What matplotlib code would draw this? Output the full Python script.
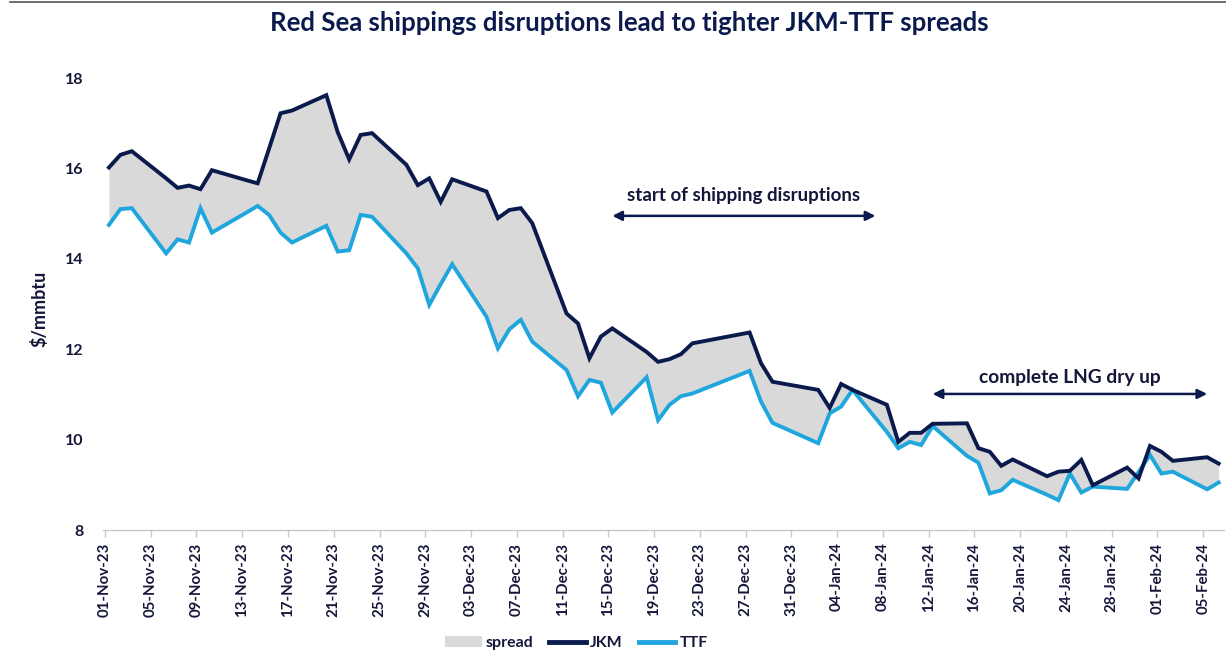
import matplotlib
matplotlib.use("Agg")
import matplotlib.pyplot as plt
import matplotlib.dates as mdates
from matplotlib.transforms import ScaledTranslation
from matplotlib.patches import Patch
from matplotlib.lines import Line2D
import numpy as np
import pandas as pd

dates = ["2023-11-01", "2023-11-02", "2023-11-03", "2023-11-06", "2023-11-07", "2023-11-08",
         "2023-11-09", "2023-11-10", "2023-11-13", "2023-11-14", "2023-11-15", "2023-11-16",
         "2023-11-17", "2023-11-20", "2023-11-21", "2023-11-22", "2023-11-23", "2023-11-24",
         "2023-11-27", "2023-11-28", "2023-11-29", "2023-11-30", "2023-12-01", "2023-12-04",
         "2023-12-05", "2023-12-06", "2023-12-07", "2023-12-08", "2023-12-11", "2023-12-12",
         "2023-12-13", "2023-12-14", "2023-12-15", "2023-12-18", "2023-12-19", "2023-12-20",
         "2023-12-21", "2023-12-22", "2023-12-27", "2023-12-28", "2023-12-29", "2024-01-02",
         "2024-01-03", "2024-01-04", "2024-01-05", "2024-01-08", "2024-01-09", "2024-01-10",
         "2024-01-11", "2024-01-12", "2024-01-15", "2024-01-16", "2024-01-17", "2024-01-18",
         "2024-01-19", "2024-01-22", "2024-01-23", "2024-01-24", "2024-01-25", "2024-01-26",
         "2024-01-29", "2024-01-30", "2024-01-31", "2024-02-01", "2024-02-02", "2024-02-05",
         "2024-02-06"]

jkm = [16.02, 16.30, 16.38, 15.78, 15.57, 15.62,
       15.54, 15.96, 15.74, 15.67, 16.44, 17.22,
       17.28, 17.62, 16.80, 16.20, 16.74, 16.78,
       16.08, 15.63, 15.78, 15.26, 15.76, 15.49,
       14.90, 15.08, 15.12, 14.79, 12.79, 12.57,
       11.80, 12.28, 12.46, 11.94, 11.72, 11.78,
       11.89, 12.13, 12.37, 11.69, 11.28, 11.10,
       10.70, 11.23, 11.10, 10.77, 9.95, 10.15,
       10.15, 10.35, 10.36, 9.81, 9.73, 9.42,
       9.56, 9.19, 9.29, 9.31, 9.55, 8.99,
       9.38, 9.14, 9.86, 9.73, 9.53, 9.61,
       9.47]

ttf = [14.75, 15.10, 15.12, 14.12, 14.43, 14.36,
       15.12, 14.58, 15.02, 15.17, 14.97, 14.58,
       14.36, 14.73, 14.16, 14.19, 14.97, 14.93,
       14.12, 13.79, 12.98, 13.44, 13.88, 12.72,
       12.02, 12.44, 12.65, 12.17, 11.54, 10.96,
       11.32, 11.26, 10.60, 11.38, 10.43, 10.77,
       10.96, 11.02, 11.52, 10.84, 10.37, 9.92,
       10.58, 10.73, 11.10, 10.17, 9.81, 9.95,
       9.88, 10.30, 9.64, 9.49, 8.81, 8.88,
       9.11, 8.78, 8.66, 9.25, 8.83, 8.96,
       8.91, 9.28, 9.66, 9.25, 9.29, 8.90,
       9.05]

tick_start = "2023-11-01"
tick_end = "2024-02-05"
y_ticks = [8, 10, 12, 14, 16, 18]

title = "Red Sea shippings disruptions lead to tighter JKM-TTF spreads"
ann1 = "start of shipping disruptions"
ann1_range = ("2023-12-15", "2024-01-07")
ann2 = "complete LNG dry up"
ann2_range = ("2024-01-12", "2024-02-05")

NAVY = "#0b1a4d"
BLUE = "#1fa6dd"
GREY = "#d9d9d9"
TEXT = "#14173a"

plt.rcParams['font.family'] = ['Lato', 'DejaVu Sans']

x = mdates.date2num(pd.to_datetime(dates))
jkm = np.array(jkm)
ttf = np.array(ttf)

fig = plt.figure(figsize=(12.26, 6.61), dpi=100)
ax = fig.add_axes([103/1226, 131/661, 1121/1226, 452/661])

ax.fill_between(x, ttf, jkm, color=GREY, linewidth=0, zorder=1)
ax.plot(x, jkm, color=NAVY, lw=2.8, solid_joinstyle='miter', zorder=3)
ax.plot(x, ttf, color=BLUE, lw=2.8, solid_joinstyle='miter', zorder=2)

x0 = mdates.date2num(pd.Timestamp(tick_start))
ax.set_xlim(x0 - 0.52, x0 + 97.47)
ax.set_ylim(8, 18)

ticks = mdates.date2num(pd.date_range(tick_start, tick_end, freq="4D"))
ax.set_xticks(ticks - 0.35)
ax.set_xticklabels([pd.Timestamp(mdates.num2date(t)).strftime("%d-%b-%y") for t in ticks],
                   rotation=90, fontsize=10.8, fontweight='bold', color=TEXT)
for lab in ax.get_xticklabels():
    lab.set_transform(lab.get_transform() + ScaledTranslation(7/100, 0, fig.dpi_scale_trans))
ax.tick_params(axis='x', length=5, color='#c8c8c8', width=1, pad=4)

ax.set_yticks(y_ticks)
ax.set_yticklabels([str(v) for v in y_ticks], fontsize=11.5, fontweight='bold', color=TEXT)
ax.tick_params(axis='y', length=0, pad=14)

for s in ['top', 'right', 'left']:
    ax.spines[s].set_visible(False)
ax.spines['bottom'].set_color('#c8c8c8')
ax.spines['bottom'].set_linewidth(1)

ax.set_ylabel("$/mmbtu", fontsize=13, fontweight='bold', color=TEXT)
ax.yaxis.set_label_coords(-0.049, 0.49)

fig.text(0.513, 0.965, title, ha='center', va='center', fontsize=18.5, fontweight='bold', color=NAVY)

def span(label, rng, yarrow, ytext, size):
    a = mdates.date2num(pd.Timestamp(rng[0]))
    b = mdates.date2num(pd.Timestamp(rng[1]))
    ax.annotate("", xy=(a, yarrow), xytext=(b, yarrow),
                arrowprops=dict(arrowstyle='<|-|>', color=NAVY, lw=1.8,
                                mutation_scale=14, shrinkA=0, shrinkB=0))
    ax.text((a + b) / 2, ytext, label, ha='center', va='center', fontsize=size,
            fontweight='bold', color=TEXT)

span(ann1, ann1_range, 14.95, 15.40, 13.5)
span(ann2, ann2_range, 11.01, 11.38, 13.8)

handles = [Patch(facecolor=GREY, edgecolor='none'),
           Line2D([], [], color=NAVY, lw=3.5),
           Line2D([], [], color=BLUE, lw=3.5)]
leg = fig.legend(handles, ["spread", "JKM", "TTF"], loc='center', bbox_to_anchor=(0.470, 0.027),
                 ncol=3, frameon=False, handlelength=2.3, handletextpad=0.25, columnspacing=1.0,
                 prop={'family': ['Lato', 'DejaVu Sans'], 'weight': 'bold', 'size': 11.5})
for t in leg.get_texts():
    t.set_color(TEXT)

fig.add_artist(Line2D([10/1226, 1], [1 - 2/661, 1 - 2/661], color='#555555', lw=1.2,
                      transform=fig.transFigure))

fig.savefig("out.png", dpi=100)
